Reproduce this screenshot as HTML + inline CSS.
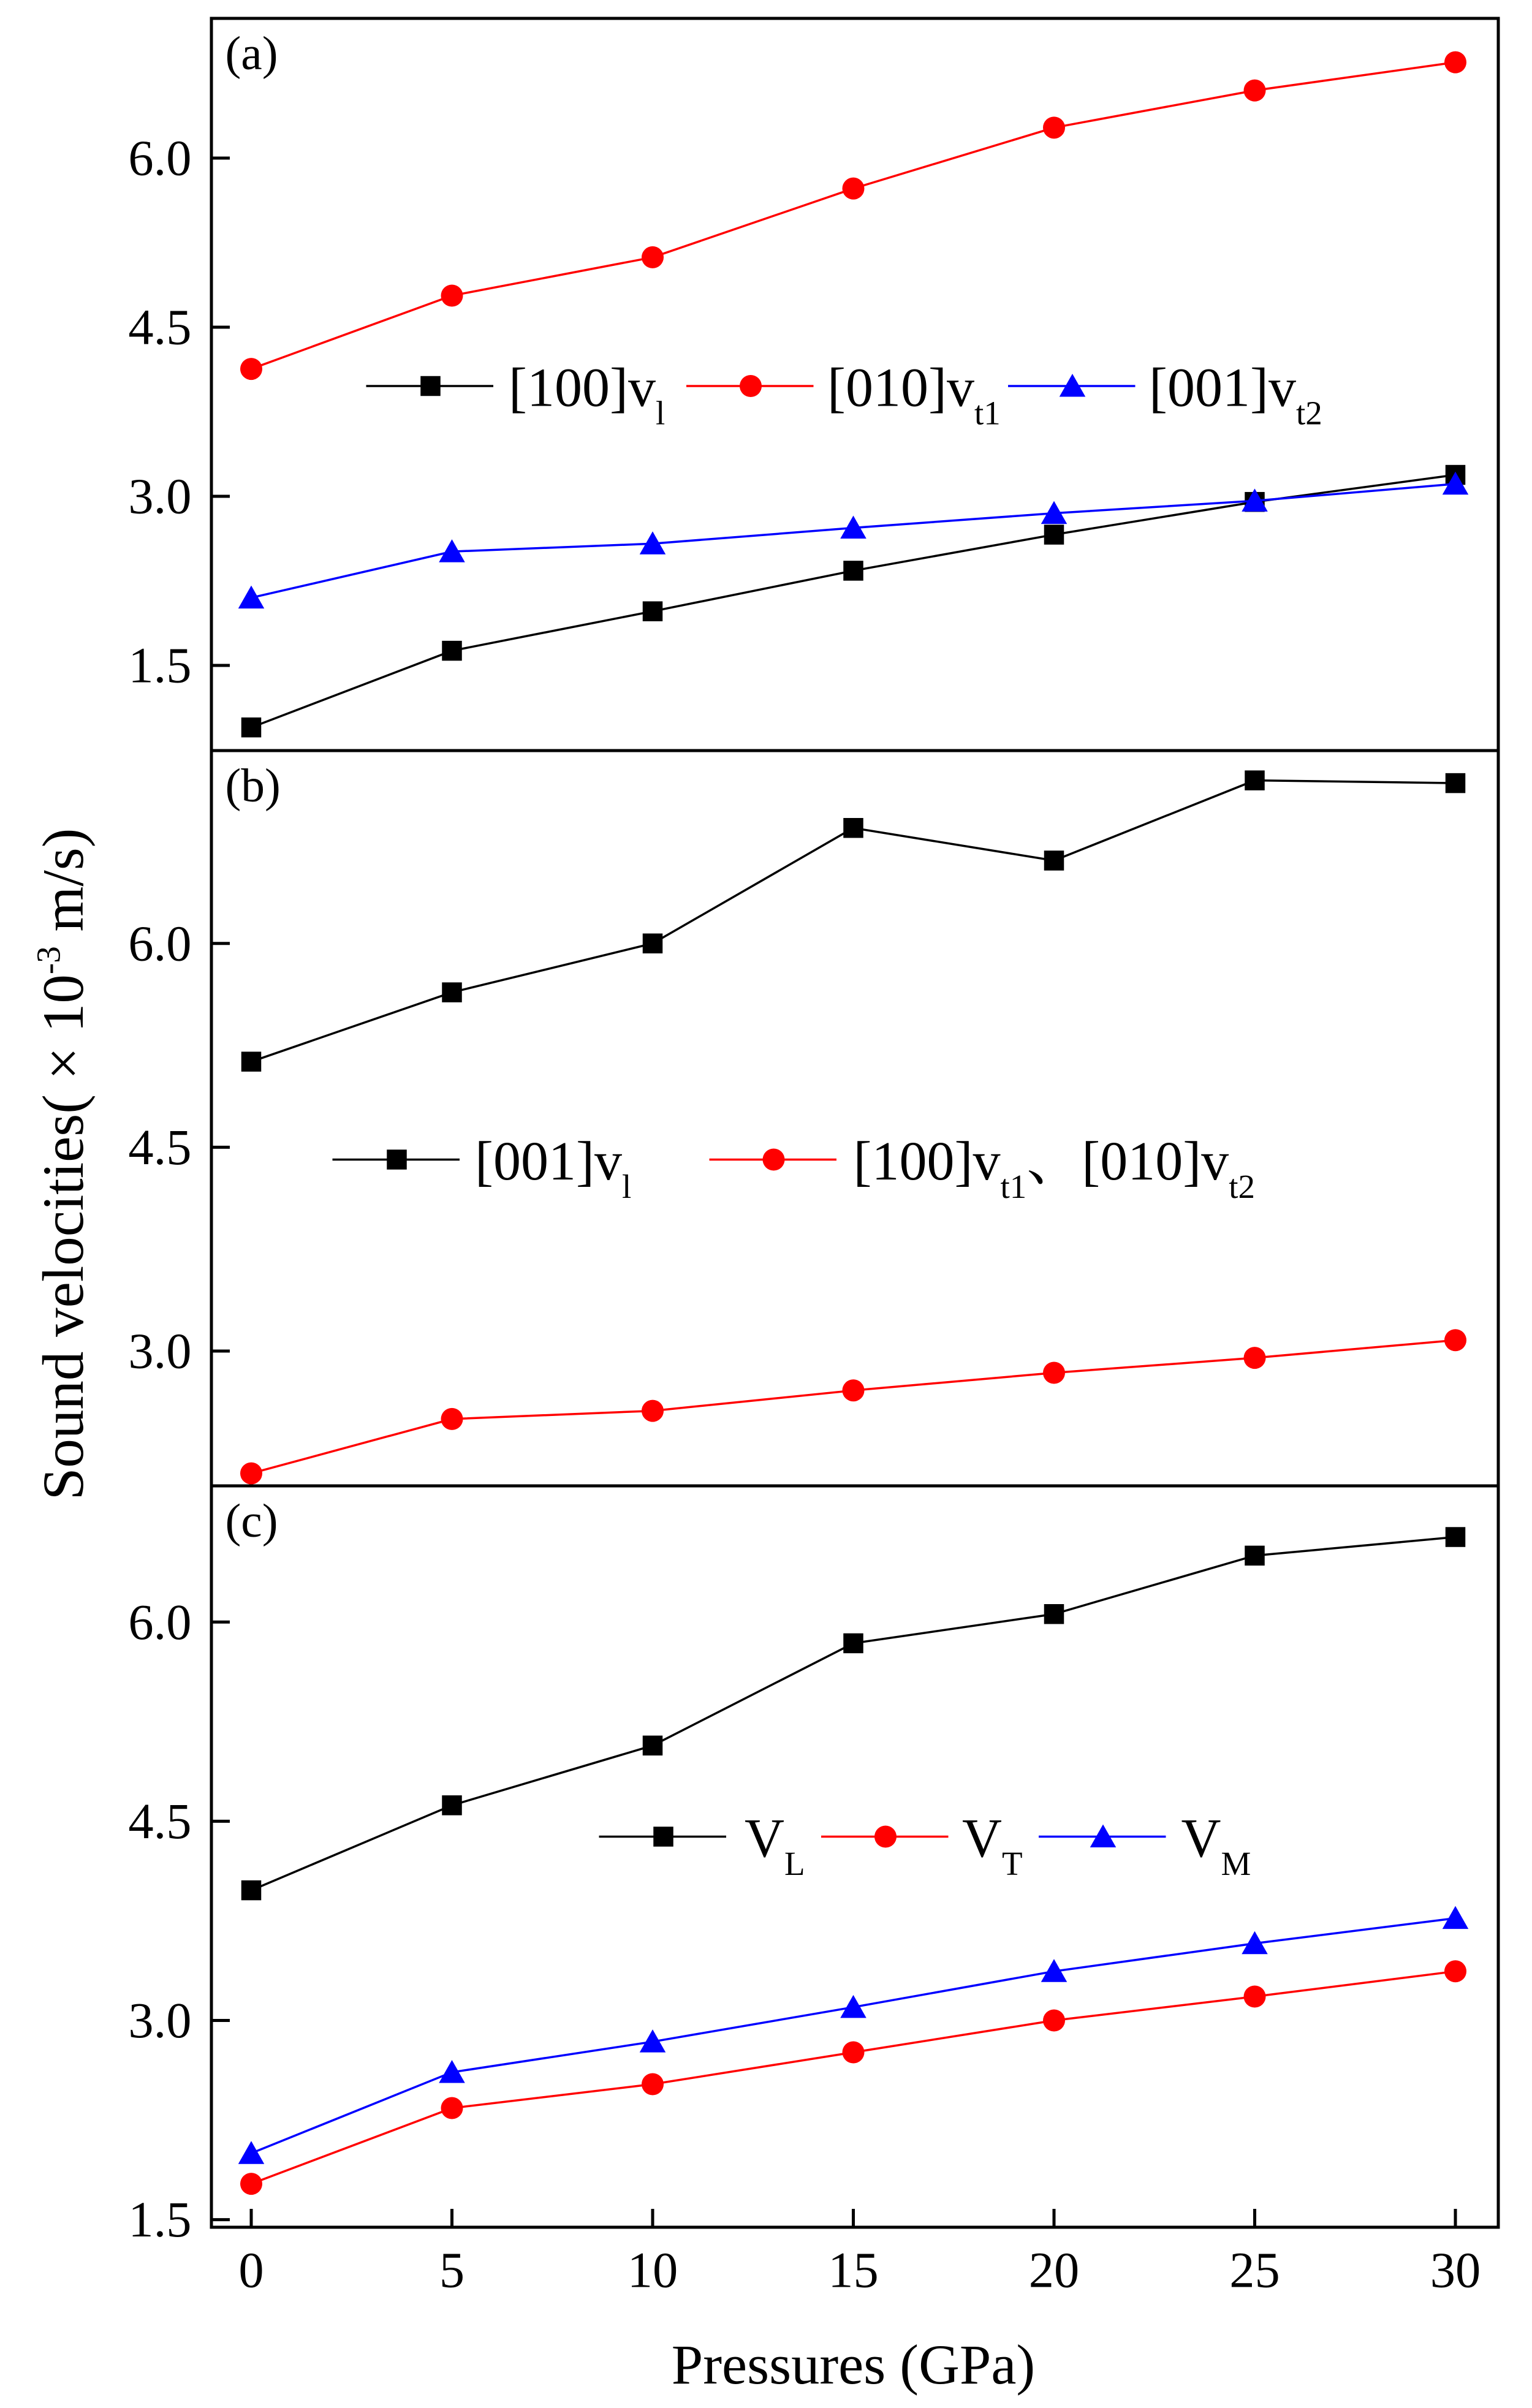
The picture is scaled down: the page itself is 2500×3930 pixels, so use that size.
<!DOCTYPE html>
<html><head><meta charset="utf-8"><style>
html,body{margin:0;padding:0;background:#fff;}
svg{display:block;font-family:"Liberation Serif","Noto Serif CJK SC",serif;}
</style></head><body>
<svg id="chart" width="2500" height="3930" viewBox="0 0 1000 1572" xmlns="http://www.w3.org/2000/svg">
<rect width="1000" height="1572" fill="#fff"/>
<g id="plot"></g>
<text x="557" y="1556" font-size="37" text-anchor="middle">Pressures (GPa)</text>
<text transform="translate(54,760) rotate(-90)" font-size="38" text-anchor="middle">Sound velocities( × 10<tspan font-size="22" dy="-15">-3</tspan><tspan dy="15"> m/s)</tspan></text>
</svg>
<script>
const pressures = [0, 5, 10, 15, 20, 25, 30];
const xTicks = [0, 5, 10, 15, 20, 25, 30];
const a_v1 = [0.95, 1.63, 1.98, 2.34, 2.66, 2.95, 3.19];
const a_vt1 = [4.13, 4.78, 5.12, 5.73, 6.27, 6.60, 6.85];
const a_vt2 = [2.10, 2.51, 2.58, 2.72, 2.85, 2.96, 3.11];
const b_v1 = [5.13, 5.64, 6.00, 6.85, 6.61, 7.20, 7.18];
const b_vt = [2.10, 2.50, 2.56, 2.71, 2.84, 2.95, 3.08];
const c_VL = [3.98, 4.62, 5.07, 5.84, 6.06, 6.50, 6.64];
const c_VT = [1.77, 2.34, 2.52, 2.76, 3.00, 3.18, 3.37];
const c_VM = [2.00, 2.61, 2.84, 3.10, 3.37, 3.58, 3.77];
const aTicks = [1.5, 3.0, 4.5, 6.0];
const bTicks = [3.0, 4.5, 6.0];
const cTicks = [1.5, 3.0, 4.5, 6.0];

const NS = "http://www.w3.org/2000/svg";
const plot = document.getElementById('plot');
const L = 138, R = 978;
const xs = p => 164 + (p - 0) * (950 - 164) / 30;
function el(tag, attrs, parent) {
  const e = document.createElementNS(NS, tag);
  for (const k in attrs) e.setAttribute(k, attrs[k]);
  (parent || plot).appendChild(e);
  return e;
}
function marker(type, x, y, color, g) {
  let m;
  if (type === 'square') m = el('rect', {x: x - 6.5, y: y - 6.5, width: 13, height: 13, fill: color}, g);
  else if (type === 'circle') m = el('circle', {cx: x, cy: y, r: 7.2, fill: color}, g);
  else m = el('polygon', {points: `${x},${y - 8} ${x - 8.5},${y + 7} ${x + 8.5},${y + 7}`, fill: color}, g);
  return m;
}
function panel(name, top, bottom, yRef, yPx, ticks, label) {
  const ys = v => yRef + (v - 3.0) * yPx;
  const g = el('g', {});
  
  
  const box = el('rect', {x: L, y: top, width: R - L, height: bottom - top, fill: 'none', stroke: '#000', 'stroke-width': 2}, g);
  
  
  ticks.forEach(t => {
    const y = ys(t);
    const tl = el('line', {x1: L, x2: L + 12, y1: y, y2: y, stroke: '#000', 'stroke-width': 2}, g);
    
    
    const tx = el('text', {x: 125, y: y + 11, 'font-size': 33, 'text-anchor': 'end'}, g);
    
    
    tx.textContent = t.toFixed(1);
  });
  const lab = el('text', {x: 147, y: top + 33, 'font-size': 31}, g);
  
  
  lab.textContent = label;
  return {g, ys};
}
function series(p, vals, color, type, name) {
  const g = el('g', {}, p.g);
  
  
  const pts = vals.map((v, i) => xs(pressures[i]) + ',' + p.ys(v)).join(' ');
  el('polyline', {points: pts, fill: 'none', stroke: color, 'stroke-width': 1.4}, g);
  vals.forEach((v, i) => {
    const m = marker(type, xs(pressures[i]), p.ys(v), color, g);
    
    
  });
}
function legend(p, x1, y, color, type, textX, main, sub, extra) {
  const g = el('g', {}, p.g);
  
  
  el('line', {x1: x1, x2: x1 + 83, y1: y, y2: y, stroke: color, 'stroke-width': 1.4}, g);
  marker(type, x1 + 42, y, color, g);
  const t = el('text', {x: textX, y: y + 13, 'font-size': 36}, g);
  t.innerHTML = main + '<tspan font-size="22" dy="12">' + sub + '</tspan>' + (extra || '');
}

const pa = panel('a', 12, 490, 324, -73.6, aTicks, '(a)');
series(pa, a_v1, '#000', 'square', 'a-v1');
series(pa, a_vt1, '#f00', 'circle', 'a-vt1');
series(pa, a_vt2, '#00f', 'triangle', 'a-vt2');
legend(pa, 239, 252, '#000', 'square', 332, '[100]v', 'l');
legend(pa, 448, 252, '#f00', 'circle', 540, '[010]v', 't1');
legend(pa, 658, 252, '#00f', 'triangle', 750, '[001]v', 't2');

const pb = panel('b', 490, 970, 882, -88.7, bTicks, '(b)');
series(pb, b_v1, '#000', 'square', 'b-v1');
series(pb, b_vt, '#f00', 'circle', 'b-vt');
legend(pb, 217, 757, '#000', 'square', 310, '[001]v', 'l');
legend(pb, 463, 757, '#f00', 'circle', 557, '[100]v', 't1', '<tspan font-size="36" dy="-12">、[010]v</tspan><tspan font-size="22" dy="12">t2</tspan>');

const pc = panel('c', 970, 1454, 1319, -86.7, cTicks, '(c)');
series(pc, c_VL, '#000', 'square', 'c-VL');
series(pc, c_VT, '#f00', 'circle', 'c-VT');
series(pc, c_VM, '#00f', 'triangle', 'c-VM');
legend(pc, 391, 1199, '#000', 'square', 486, 'V', 'L');
legend(pc, 536, 1199, '#f00', 'circle', 628, 'V', 'T');
legend(pc, 678, 1199, '#00f', 'triangle', 771, 'V', 'M');

xTicks.forEach(t => {
  const x = xs(t);
  const tl = el('line', {x1: x, x2: x, y1: 1454, y2: 1442, stroke: '#000', 'stroke-width': 2});
  
  
  const tx = el('text', {x: x, y: 1493, 'font-size': 33, 'text-anchor': 'middle'});
  
  
  tx.textContent = t;
});
</script>
</body></html>
